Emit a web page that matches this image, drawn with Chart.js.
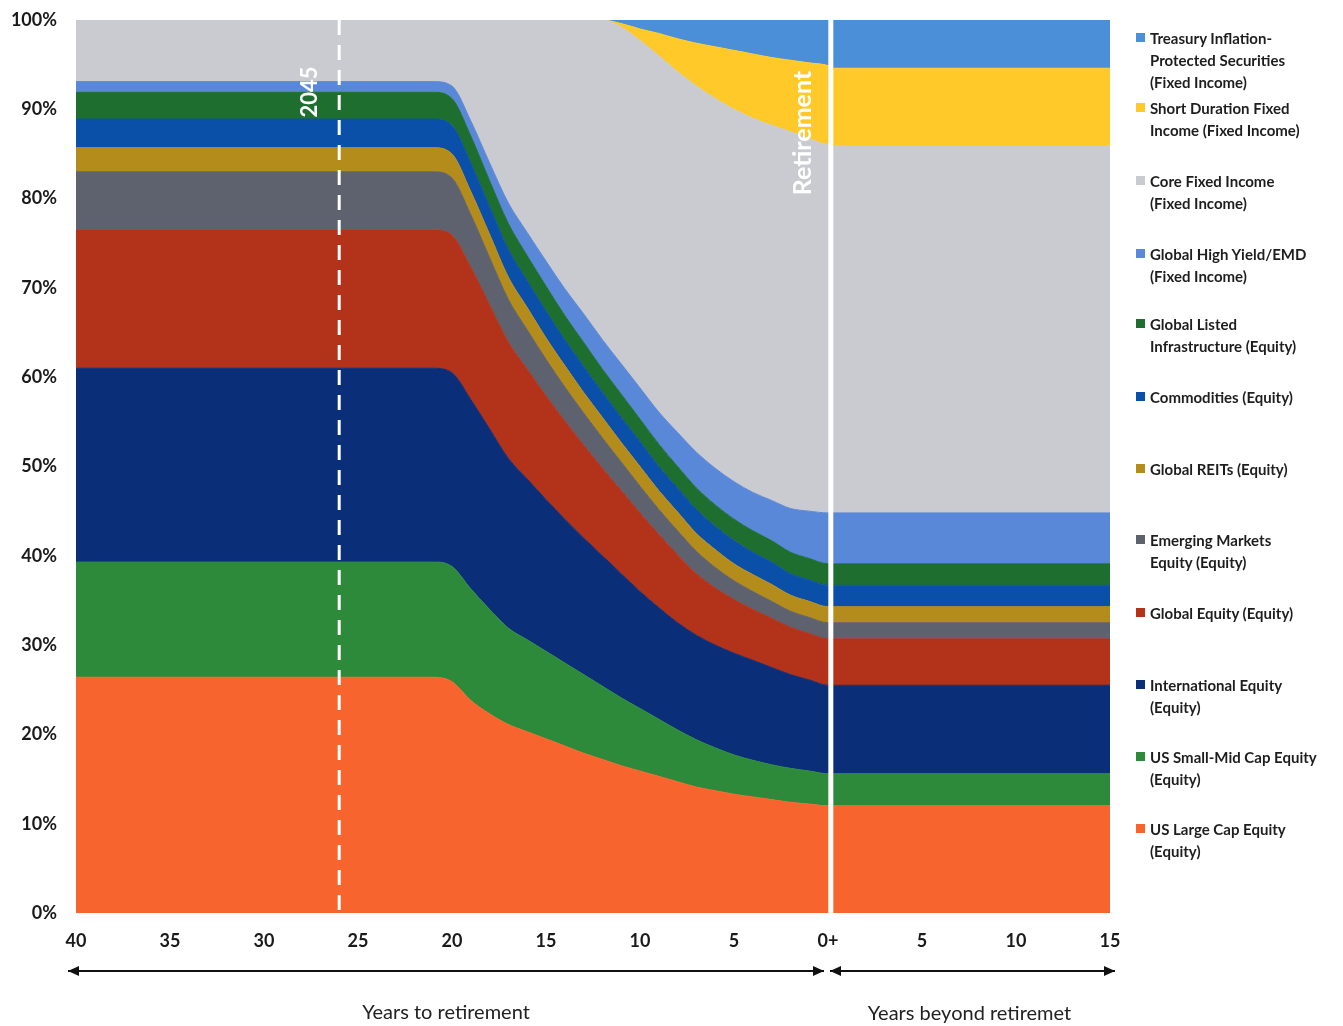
<!DOCTYPE html>
<html>
<head>
<meta charset="utf-8">
<script src="https://cdn.jsdelivr.net/npm/chart.js@4.4.0/dist/chart.umd.min.js"></script>
<style>
  body { margin: 0; background: #fff; }
  #wrap { position: relative; width: 1343px; height: 1026px; }
  #legend { position: absolute; left: 1136px; top: 0; font-family: Lato, 'Open Sans', sans-serif; font-weight: 700; font-size: 15px; color: #1e1e1e; }
  .item { position: absolute; left: 0; white-space: nowrap; line-height: 22px; }
  .sw { position: absolute; left: 0; top: 6px; width: 9px; height: 9px; }
  .txt { position: absolute; left: 14px; top: 0; }
</style>
</head>
<body>
<div id="wrap">
  <canvas id="glideChart" width="1343" height="1026"></canvas>
  <div id="legend"></div>
</div>
<script>
// x = years relative to retirement (negative = years to retirement)
const years = [-40, -35, -30, -25, -21, -20, -19, -18, -17, -16, -15, -14, -13, -12, -11, -10, -9, -8, -7, -6, -5, -4, -3, -2, -1, 0, 0.3, 5, 10, 15];

// allocation (%) per asset class, bottom layer first
const usLargeCap   = [26.4, 26.4, 26.4, 26.4, 26.4, 25.9, 23.8, 22.3, 21.1, 20.3, 19.5, 18.7, 17.9, 17.2, 16.5, 15.9, 15.3, 14.7, 14.1, 13.7, 13.3, 13.0, 12.7, 12.4, 12.2, 12.0, 12.0, 12.0, 12.0, 12.0];
const usSmallMid   = [12.9, 12.9, 12.9, 12.9, 12.9, 12.9, 12.5, 11.7, 10.8, 10.3, 9.8, 9.3, 8.8, 8.2, 7.6, 7.0, 6.4, 5.8, 5.3, 4.8, 4.4, 4.1, 3.9, 3.8, 3.7, 3.6, 3.6, 3.6, 3.6, 3.6];
const intlEquity   = [21.7, 21.7, 21.7, 21.7, 21.7, 21.7, 21.2, 20.2, 19.0, 18.0, 17.0, 16.1, 15.3, 14.6, 13.9, 13.1, 12.5, 12.0, 11.7, 11.5, 11.4, 11.2, 10.9, 10.5, 10.2, 9.9, 9.9, 9.9, 9.9, 9.9];
const globalEquity = [15.5, 15.5, 15.5, 15.5, 15.5, 15.4, 14.8, 13.9, 13.0, 12.3, 11.6, 11.0, 10.4, 9.8, 9.3, 8.8, 8.2, 7.6, 6.9, 6.4, 6.0, 5.7, 5.5, 5.3, 5.2, 5.2, 5.2, 5.2, 5.2, 5.2];
const emEquity     = [6.5, 6.5, 6.5, 6.5, 6.5, 6.4, 5.9, 5.3, 4.8, 4.4, 4.1, 3.8, 3.6, 3.4, 3.2, 3.0, 2.8, 2.7, 2.5, 2.3, 2.1, 2.0, 1.9, 1.8, 1.8, 1.8, 1.8, 1.8, 1.8, 1.8];
const globalReits  = [2.7, 2.7, 2.7, 2.7, 2.7, 2.7, 2.6, 2.6, 2.5, 2.5, 2.4, 2.4, 2.3, 2.3, 2.2, 2.2, 2.1, 2.1, 2.0, 2.0, 1.9, 1.9, 1.9, 1.8, 1.8, 1.8, 1.8, 1.8, 1.8, 1.8];
const commodities  = [3.2, 3.2, 3.2, 3.2, 3.2, 3.2, 3.2, 3.1, 3.1, 3.0, 3.0, 2.9, 2.9, 2.8, 2.8, 2.8, 2.7, 2.7, 2.7, 2.6, 2.6, 2.5, 2.5, 2.4, 2.4, 2.4, 2.4, 2.4, 2.4, 2.4];
const infra        = [3.0, 3.0, 3.0, 3.0, 3.0, 3.0, 3.0, 2.9, 2.9, 2.8, 2.8, 2.7, 2.7, 2.6, 2.6, 2.5, 2.5, 2.4, 2.4, 2.4, 2.4, 2.4, 2.4, 2.4, 2.4, 2.4, 2.4, 2.4, 2.4, 2.4];
const highYield    = [1.2, 1.2, 1.2, 1.2, 1.2, 1.4, 1.7, 2.0, 2.3, 2.6, 2.8, 3.0, 3.2, 3.3, 3.4, 3.5, 3.6, 3.8, 4.0, 4.1, 4.2, 4.3, 4.5, 4.9, 5.3, 5.7, 5.7, 5.7, 5.7, 5.7];
const coreFixed    = [6.9, 6.9, 6.9, 6.9, 6.9, 7.4, 11.3, 16.0, 20.5, 23.8, 27.0, 30.1, 32.9, 35.8, 37.7, 38.9, 39.9, 40.4, 41.0, 41.4, 41.7, 41.9, 42.0, 42.2, 41.7, 41.2, 41.1, 41.1, 41.1, 41.1];
const shortDur     = [0, 0, 0, 0, 0, 0, 0, 0, 0, 0, 0, 0, 0, 0, 0.4, 1.3, 2.5, 3.7, 4.8, 5.8, 6.6, 7.2, 7.6, 8.0, 8.5, 8.9, 8.7, 8.7, 8.7, 8.7];
const tips         = [0, 0, 0, 0, 0, 0, 0, 0, 0, 0, 0, 0, 0, 0, 0.4, 1.0, 1.5, 2.1, 2.6, 3.0, 3.4, 3.8, 4.2, 4.5, 4.8, 5.1, 5.4, 5.4, 5.4, 5.4];

const seriesNames = [
  'US Large Cap Equity (Equity)', 'US Small-Mid Cap Equity (Equity)', 'International Equity (Equity)',
  'Global Equity (Equity)', 'Emerging Markets Equity (Equity)', 'Global REITs (Equity)',
  'Commodities (Equity)', 'Global Listed Infrastructure (Equity)', 'Global High Yield/EMD (Fixed Income)',
  'Core Fixed Income (Fixed Income)', 'Short Duration Fixed Income (Fixed Income)',
  'Treasury Inflation-Protected Securities (Fixed Income)'
];
const seriesData = [usLargeCap, usSmallMid, intlEquity, globalEquity, emEquity, globalReits,
  commodities, infra, highYield, coreFixed, shortDur, tips];
const colors = ['#F8642E', '#2E8A3B', '#0B2E78', '#B3321A', '#5E616E', '#B48C1C',
  '#0B50A8', '#1E6E30', '#5A88D8', '#C9CBD1', '#FFC929', '#4A8FD8'];

const yTicks = [0, 10, 20, 30, 40, 50, 60, 70, 80, 90, 100];
const markYear = -26;      // 2045 vintage line
const markLabel = '2045';

// legend lines, top to bottom, with the y of the first line
const legendRows = [
  { i: 11, y: 38, lines: ['Treasury Inflation-', 'Protected Securities', '(Fixed Income)'] },
  { i: 10, y: 108, lines: ['Short Duration Fixed', 'Income (Fixed Income)'] },
  { i: 9, y: 181, lines: ['Core Fixed Income', '(Fixed Income)'] },
  { i: 8, y: 254, lines: ['Global High Yield/EMD', '(Fixed Income)'] },
  { i: 7, y: 324, lines: ['Global Listed', 'Infrastructure (Equity)'] },
  { i: 6, y: 397, lines: ['Commodities (Equity)'] },
  { i: 5, y: 469, lines: ['Global REITs (Equity)'] },
  { i: 4, y: 540, lines: ['Emerging Markets', 'Equity (Equity)'] },
  { i: 3, y: 613, lines: ['Global Equity (Equity)'] },
  { i: 2, y: 685, lines: ['International Equity', '(Equity)'] },
  { i: 1, y: 757, lines: ['US Small-Mid Cap Equity', '(Equity)'] },
  { i: 0, y: 829, lines: ['US Large Cap Equity', '(Equity)'] }
];

const legendEl = document.getElementById('legend');
legendRows.forEach(function(r) {
  const d = document.createElement('div');
  d.className = 'item';
  d.style.top = (r.y - 11) + 'px';
  d.innerHTML = '<span class="sw" style="background:' + colors[r.i] + '"></span>' +
    '<span class="txt">' + r.lines.join('<br>') + '</span>';
  legendEl.appendChild(d);
});

const tickFont = { family: 'Lato, "Open Sans", sans-serif', size: 18, weight: 'bold' };

// white marker lines, rotated labels, arrows and the two axis captions
const decor = {
  id: 'decor',
  afterDatasetsDraw(chart) {
    const ctx = chart.ctx, a = chart.chartArea, x = chart.scales.x;
    ctx.save();
    const xd = x.getPixelForValue(markYear);
    ctx.strokeStyle = '#fff';
    ctx.lineWidth = 3;
    ctx.setLineDash([15, 10]);
    ctx.beginPath(); ctx.moveTo(xd, a.top); ctx.lineTo(xd, a.bottom); ctx.stroke();
    ctx.setLineDash([]);
    const xr = (x.getPixelForValue(0) + x.getPixelForValue(0.3)) / 2;
    ctx.lineWidth = 5;
    ctx.beginPath(); ctx.moveTo(xr, a.top); ctx.lineTo(xr, a.bottom); ctx.stroke();

    ctx.fillStyle = '#fff';
    ctx.textAlign = 'center';
    ctx.textBaseline = 'middle';
    ctx.font = 'bold 22px Lato, "Open Sans", sans-serif';
    ctx.save(); ctx.translate(xd - 29, 92); ctx.rotate(-Math.PI / 2); ctx.fillText(markLabel, 0, 0); ctx.restore();
    ctx.font = 'bold 25px Lato, "Open Sans", sans-serif';
    ctx.save(); ctx.translate(xr - 28, 133); ctx.rotate(-Math.PI / 2); ctx.fillText('Retirement', 0, 0); ctx.restore();
    ctx.restore();
  },
  afterDraw(chart) {
    const ctx = chart.ctx, x = chart.scales.x;
    const ay = 971;
    function arrow(x1, x2) {
      ctx.beginPath(); ctx.moveTo(x1, ay); ctx.lineTo(x2, ay); ctx.stroke();
      ctx.beginPath(); ctx.moveTo(x1, ay); ctx.lineTo(x1 + 11, ay - 5); ctx.lineTo(x1 + 11, ay + 5); ctx.closePath(); ctx.fill();
      ctx.beginPath(); ctx.moveTo(x2, ay); ctx.lineTo(x2 - 11, ay - 5); ctx.lineTo(x2 - 11, ay + 5); ctx.closePath(); ctx.fill();
    }
    ctx.save();
    ctx.strokeStyle = '#111';
    ctx.fillStyle = '#111';
    ctx.lineWidth = 2;
    const l1 = x.getPixelForValue(-40) - 8, r1 = x.getPixelForValue(0) - 4;
    const l2 = x.getPixelForValue(0) + 2, r2 = x.getPixelForValue(15) + 5;
    arrow(l1, r1);
    arrow(l2, r2);
    ctx.fillStyle = '#222';
    ctx.font = '20px Lato, "Open Sans", sans-serif';
    ctx.textAlign = 'center';
    ctx.textBaseline = 'middle';
    ctx.fillText('Years to retirement', (l1 + r1) / 2, 1013);
    ctx.fillText('Years beyond retiremet', (l2 + r2) / 2 - 3, 1014);
    ctx.restore();
  }
};

const ctx = document.getElementById('glideChart').getContext('2d');
const glideChart = new Chart(ctx, {
  type: 'line',
  data: {
    datasets: seriesData.map(function(vals, i) {
      return {
        label: seriesNames[i],
        data: years.map(function(yr, k) { return { x: yr, y: vals[k] }; }),
        backgroundColor: colors[i],
        borderColor: colors[i],
        borderWidth: 1,
        pointRadius: 0,
        cubicInterpolationMode: 'monotone',
        fill: i === 0 ? 'origin' : '-1'
      };
    })
  },
  options: {
    responsive: false,
    animation: false,
    layout: { padding: { left: 0, top: 20, right: 233, bottom: 0 } },
    plugins: { legend: { display: false }, tooltip: { enabled: false } },
    scales: {
      x: {
        type: 'linear',
        min: -40,
        max: 15,
        grid: { display: false, drawTicks: false },
        border: { display: false },
        ticks: {
          stepSize: 5,
          padding: 17,
          color: '#1a1a1a',
          font: tickFont,
          callback: function(v) { return v === 0 ? '0+' : Math.abs(v); }
        },
        afterFit: function(s) { s.height = 113; }
      },
      y: {
        stacked: true,
        min: 0,
        max: 100,
        // tick marks hidden with the grid; their length only spaces the labels
        grid: { display: false, drawTicks: true, tickLength: 19 },
        border: { display: false },
        afterBuildTicks: function(s) { s.ticks = yTicks.map(function(v) { return { value: v }; }); },
        ticks: {
          padding: 0,
          color: '#1a1a1a',
          font: tickFont,
          callback: function(v) { return v + '%'; }
        },
        afterFit: function(s) { s.width = 76; }
      }
    }
  },
  plugins: [decor]
});
</script>
</body>
</html>
